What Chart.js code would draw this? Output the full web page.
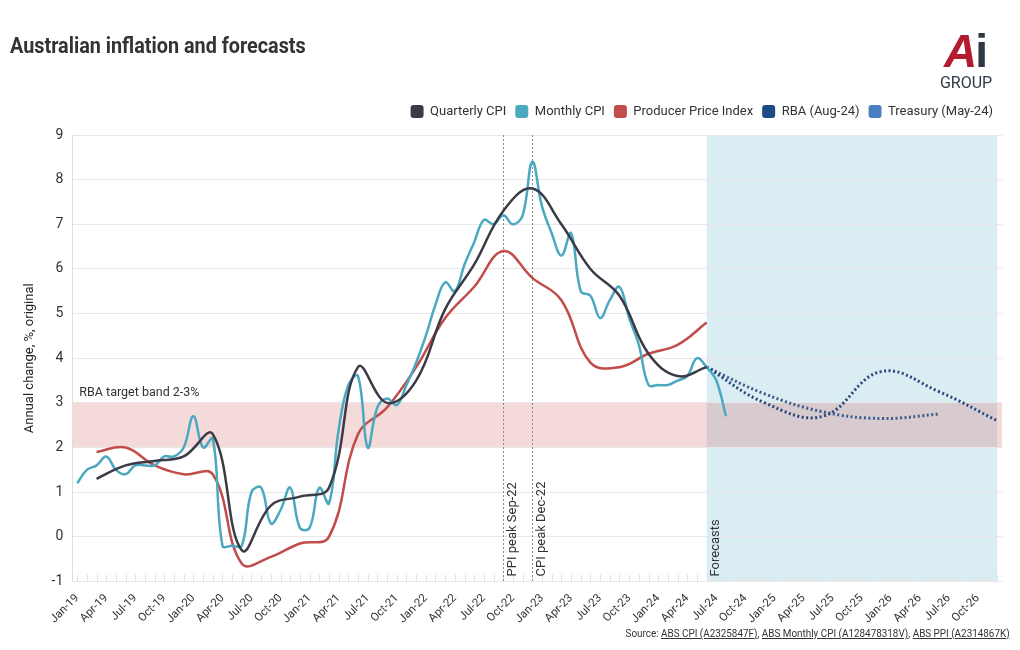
<!DOCTYPE html>
<html lang="en">
<head>
<meta charset="UTF-8">
<meta name="viewport" content="width=device-width, initial-scale=1.0">
<title>Australian inflation and forecasts</title>
<script src="https://cdn.jsdelivr.net/npm/chart.js@4.4.1/dist/chart.umd.min.js"></script>
<style>
  body { margin: 0; background: #fff; color: #333; font-family: Roboto, sans-serif; }
  #wrap { position: relative; width: 1020px; height: 650px; overflow: hidden; }
  #chart { position: absolute; left: 0; top: 0; }
  h1 { position: absolute; left: 10px; top: 33px; margin: 0; font-size: 22px; font-weight: bold; color: #333;
       transform: scaleX(0.9); transform-origin: left; white-space: nowrap; }
  .logo { position: absolute; left: 934px; top: 24px; width: 64px; text-align: center; line-height: 1; }
  .logo .a { font: italic bold 46px 'Liberation Sans', sans-serif; color: #b31b2f; letter-spacing: -2px; }
  .logo .i { font: bold 46px 'Liberation Sans', sans-serif; color: #2d3a46; }
  .logo .grp { font-size: 16px; color: #2d3a46; margin-top: -3px; }
  .source { position: absolute; right: 10px; top: 626px; font-size: 11.5px; color: #333;
            transform: scaleX(0.86); transform-origin: right; white-space: nowrap; }
  .source u { text-decoration: underline; }
</style>
</head>
<body>
<div id="wrap">
  <canvas id="chart" width="1020" height="650"></canvas>
  <h1>Australian inflation and forecasts</h1>
  <div class="logo"><span class="a">A</span><span class="i">i</span><div class="grp">GROUP</div></div>
  <div class="source">Source: <u>ABS CPI (A2325847F)</u>, <u>ABS Monthly CPI (A128478318V)</u>, <u>ABS PPI (A2314867K)</u></div>
</div>

<script>
// month categories Jan-19 .. Dec-26
const monthNames = ['Jan','Feb','Mar','Apr','May','Jun','Jul','Aug','Sep','Oct','Nov','Dec'];
const years = ['19','20','21','22','23','24','25','26'];
const monthLabels = [];
years.forEach(y => monthNames.forEach(m => monthLabels.push(m + '-' + y)));

// monthly CPI indicator, Jan-19 .. Aug-24
const monthlyCpi = [
  1.2, 1.5, 1.6, 1.8, 1.5, 1.4, 1.6, 1.6, 1.6, 1.8, 1.8, 2.0,
  2.7, 2.0, 2.2, -0.2, -0.2, -0.2, 1.0, 1.1, 0.3, 0.6, 1.1, 0.2,
  0.2, 1.1, 0.75, 2.4, 3.4, 3.6, 2.0, 2.9, 3.1, 2.95, 3.4, 3.9,
  4.5, 5.2, 5.7, 5.5, 6.1, 6.6, 7.1, 7.0, 7.2, 7.0, 7.2, 8.4,
  7.4, 6.8, 6.3, 6.8, 5.5, 5.4, 4.9, 5.3, 5.6, 4.9, 4.3, 3.4,
  3.4, 3.4, 3.5, 3.6, 4.0, 3.8, 3.5, 2.7
];

// quarterly series
const quarterLabels = ['Mar-19','Jun-19','Sep-19','Dec-19','Mar-20','Jun-20','Sep-20','Dec-20',
  'Mar-21','Jun-21','Sep-21','Dec-21','Mar-22','Jun-22','Sep-22','Dec-22',
  'Mar-23','Jun-23','Sep-23','Dec-23','Mar-24','Jun-24'];
const quarterlyCpi = [1.3, 1.6, 1.7, 1.8, 2.3, -0.3, 0.7, 0.9, 1.1, 3.8, 3.0, 3.5,
  5.1, 6.1, 7.3, 7.8, 7.0, 6.0, 5.4, 4.1, 3.6, 3.8];
const ppi = [1.9, 2.0, 1.6, 1.4, 1.4, -0.6, -0.45, -0.15, 0.0, 2.3, 2.9, 3.8,
  4.9, 5.6, 6.4, 5.8, 5.3, 3.9, 3.8, 4.1, 4.3, 4.8];

// forecasts
const rbaLabels = ['Jun-24','Dec-24','Jun-25','Dec-25','Jun-26','Dec-26'];
const rbaValues = [3.8, 3.0, 2.7, 3.7, 3.25, 2.6];
const treasuryLabels = ['Jun-24','Dec-24','Jun-25','Dec-25','Jun-26'];
const treasuryValues = [3.8, 3.2, 2.8, 2.65, 2.75];

// markers
const ppiPeak = 'Sep-22';
const cpiPeak = 'Dec-22';
const forecastStart = 'Jun-24';
const forecastEnd = 'Dec-26';
const targetBand = [2, 3];

const FONT = 'Roboto, sans-serif';

// put sparse values onto the monthly axis
function onMonths(labels, values) {
  const out = monthLabels.map(() => null);
  labels.forEach((l, i) => { out[monthLabels.indexOf(l)] = values[i]; });
  return out;
}

// extra gap under the legend
const legendGap = {
  id: 'legendGap',
  beforeInit(chart) {
    if (!chart.legend) return;
    const fit = chart.legend.fit;
    chart.legend.fit = function () {
      fit.call(this);
      this.height += 7;
    };
  }
};

const overlays = {
  id: 'overlays',
  beforeDraw(chart) {
    const { ctx, chartArea: a, scales: { x, y } } = chart;
    ctx.save();
    const fx0 = x.getPixelForValue(monthLabels.indexOf(forecastStart));
    const fx1 = x.getPixelForValue(monthLabels.indexOf(forecastEnd));
    ctx.fillStyle = '#daedf3';
    ctx.fillRect(fx0, a.top, fx1 - fx0, a.bottom - a.top);
    const by0 = y.getPixelForValue(targetBand[1]);
    const by1 = y.getPixelForValue(targetBand[0]);
    ctx.fillStyle = 'rgba(205, 70, 70, 0.2)';
    ctx.fillRect(a.left, by0, a.right - a.left, by1 - by0);
    ctx.restore();
  },
  beforeDatasetsDraw(chart) {
    const { ctx, chartArea: a, scales: { x, y } } = chart;
    ctx.save();
    // small month ticks along the bottom
    ctx.strokeStyle = '#e2e2e2';
    ctx.lineWidth = 1;
    monthLabels.forEach((m, i) => {
      const px = Math.round(x.getPixelForValue(i)) + 0.5;
      ctx.beginPath(); ctx.moveTo(px, a.bottom - 7); ctx.lineTo(px, a.bottom); ctx.stroke();
    });
    // peak markers
    ctx.strokeStyle = '#8c8c8c';
    ctx.setLineDash([2, 2]);
    [ppiPeak, cpiPeak].forEach(m => {
      const px = Math.round(x.getPixelForValue(monthLabels.indexOf(m))) + 0.5;
      ctx.beginPath(); ctx.moveTo(px, a.top); ctx.lineTo(px, a.bottom); ctx.stroke();
    });
    ctx.setLineDash([]);
    ctx.fillStyle = '#333';
    ctx.font = '13px ' + FONT;
    ctx.textBaseline = 'middle';
    ctx.textAlign = 'left';
    const vlabels = [[ppiPeak, 'PPI peak Sep-22'], [cpiPeak, 'CPI peak Dec-22'], [forecastStart, 'Forecasts']];
    vlabels.forEach(([m, t]) => {
      const px = x.getPixelForValue(monthLabels.indexOf(m));
      ctx.save();
      ctx.translate(px + 9, a.bottom - 5);
      ctx.rotate(-Math.PI / 2);
      ctx.fillText(t, 0, 0);
      ctx.restore();
    });
    ctx.textBaseline = 'alphabetic';
    ctx.font = '12.5px ' + FONT;
    ctx.fillText('RBA target band 2-3%', a.left + 7, y.getPixelForValue(targetBand[1]) - 7);
    ctx.restore();
  }
};

const ctx = document.getElementById('chart').getContext('2d');
new Chart(ctx, {
  type: 'line',
  data: {
    labels: monthLabels,
    datasets: [
      { label: 'Quarterly CPI', data: onMonths(quarterLabels, quarterlyCpi),
        borderColor: '#3a3b46', backgroundColor: '#3a3b46', borderWidth: 2.5 },
      { label: 'Monthly CPI', data: monthlyCpi,
        borderColor: '#4aa8c1', backgroundColor: '#4aa8c1', borderWidth: 2.5 },
      { label: 'Producer Price Index', data: onMonths(quarterLabels, ppi),
        borderColor: '#c14c4a', backgroundColor: '#c14c4a', borderWidth: 2.5 },
      { label: 'RBA (Aug-24)', data: onMonths(rbaLabels, rbaValues),
        borderColor: '#27477a', backgroundColor: '#1e4a86', borderWidth: 3, borderDash: [2, 2.5] },
      { label: 'Treasury (May-24)', data: onMonths(treasuryLabels, treasuryValues),
        borderColor: '#3a5b8c', backgroundColor: '#4a80c1', borderWidth: 3, borderDash: [2, 2.5] }
    ]
  },
  options: {
    responsive: false,
    animation: false,
    spanGaps: true,
    layout: { padding: { left: 18, right: 18, top: 96, bottom: 22 } },
    elements: { point: { radius: 0 }, line: { tension: 0.4 } },
    plugins: {
      tooltip: { enabled: false },
      legend: {
        position: 'top',
        align: 'end',
        labels: {
          color: '#333',
          font: { family: FONT, size: 13 },
          boxWidth: 13,
          boxHeight: 13,
          padding: 9,
          useBorderRadius: true,
          borderRadius: 3,
          generateLabels(chart) {
            const items = Chart.defaults.plugins.legend.labels.generateLabels(chart);
            items.forEach(it => { it.strokeStyle = it.fillStyle; it.lineWidth = 0; it.lineDash = []; });
            return items;
          }
        }
      }
    },
    scales: {
      x: {
        offset: true,
        grid: { display: false },
        border: { display: false },
        ticks: {
          autoSkip: false,
          maxRotation: 45,
          minRotation: 45,
          padding: 2,
          color: '#333',
          font: { family: FONT, size: 11.5 },
          callback: (v, i) => (i % 3 === 0 ? monthLabels[i] : '')
        }
      },
      y: {
        min: -1,
        max: 9,
        grid: { color: '#e8e8e8', drawTicks: false },
        border: { color: '#dedede' },
        ticks: { stepSize: 1, padding: 9, color: '#333', font: { family: FONT, size: 14 } },
        title: { display: true, text: 'Annual change, %, original', color: '#222',
                 font: { family: FONT, size: 13 }, padding: { top: 4, bottom: 5 } }
      }
    }
  },
  plugins: [legendGap, overlays]
});
</script>
</body>
</html>
